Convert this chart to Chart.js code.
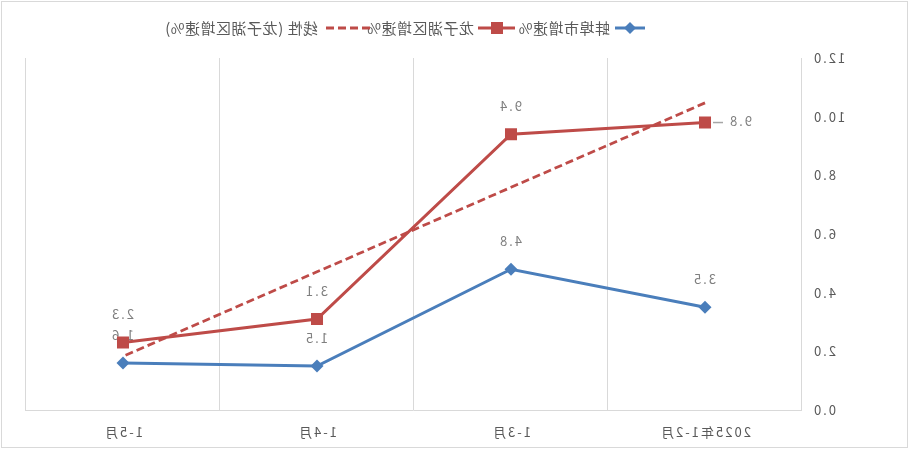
<!DOCTYPE html>
<html>
<head>
<meta charset="utf-8">
<script src="https://cdn.jsdelivr.net/npm/chart.js@4/dist/chart.umd.min.js"></script>
<style>
  html, body { margin: 0; padding: 0; background: #fff; }
  #wrap { width: 912px; height: 449px; transform: scaleX(-1); }
  canvas { display: block; }
</style>
</head>
<body>
<div id="wrap"><canvas id="c" width="912" height="449"></canvas></div>
<script>
const categories = ['2025年1-2月', '1-3月', '1-4月', '1-5月'];
const bengbu = [3.5, 4.8, 1.5, 1.6];
const longzihu = [9.8, 9.4, 3.1, 2.3];
const trendLongzihu = [10.47, 7.59, 4.71, 1.83];
const seriesNames = ['蚌埠市增速%', '龙子湖区增速%', '线性 (龙子湖区增速%)'];

const BLUE = '#4A7EBB';
const RED = '#BE4B48';
const TEXT = '#595959';
const LABEL = '#7F7F7F';
const GRID = '#D9D9D9';
const FONT = '"Noto Sans CJK SC", "Noto Sans", sans-serif';

Chart.defaults.font.family = FONT;
Chart.defaults.font.size = 13;
Chart.defaults.color = TEXT;

const spacingPlugin = {
  id: 'spacing',
  beforeDraw(chart) {
    chart.ctx.letterSpacing = '2px';
    const ctx = chart.ctx;
    ctx.save();
    ctx.strokeStyle = GRID;
    ctx.lineWidth = 1;
    ctx.strokeRect(4.5, 1.5, 906, 446);
    ctx.restore();
  }
};

const labelPlugin = {
  id: 'labels',
  afterDatasetDraw(chart, args) {
    const i = args.index;
    if (i > 1) return;
    const ctx = chart.ctx;
    const meta = chart.getDatasetMeta(i);
    const data = chart.data.datasets[i].data;
    ctx.save();
    ctx.letterSpacing = '2px';
    ctx.font = '13px ' + FONT;
    ctx.fillStyle = LABEL;
    ctx.textBaseline = 'middle';
    ctx.textAlign = 'center';
    meta.data.forEach((pt, j) => {
      const txt = data[j].toFixed(1);
      if (i === 1 && j === 0) {
        ctx.strokeStyle = '#A6A6A6';
        ctx.lineWidth = 1.5;
        ctx.beginPath();
        ctx.moveTo(pt.x - 18, pt.y);
        ctx.lineTo(pt.x - 8, pt.y);
        ctx.stroke();
        ctx.fillText(txt, pt.x - 35, pt.y - 1);
      } else {
        ctx.fillText(txt, pt.x + 1, pt.y - 28);
      }
    });
    ctx.restore();
  }
};

const legendPlugin = {
  id: 'customLegend',
  afterDraw(chart) {
    const ctx = chart.ctx;
    const y = 28;
    ctx.save();
    ctx.letterSpacing = '0.5px';
    ctx.font = '15px ' + FONT;
    ctx.fillStyle = TEXT;
    ctx.textBaseline = 'middle';
    ctx.textAlign = 'left';
    ctx.strokeStyle = BLUE; ctx.lineWidth = 3;
    ctx.beginPath(); ctx.moveTo(267, y); ctx.lineTo(297, y); ctx.stroke();
    ctx.fillStyle = BLUE;
    ctx.beginPath(); ctx.moveTo(282 - 6, y); ctx.lineTo(282, y - 6); ctx.lineTo(282 + 6, y); ctx.lineTo(282, y + 6); ctx.closePath(); ctx.fill();
    ctx.fillStyle = TEXT;
    ctx.fillText(seriesNames[0], 302, y);
    ctx.strokeStyle = RED;
    ctx.beginPath(); ctx.moveTo(397, y); ctx.lineTo(434, y); ctx.stroke();
    ctx.fillStyle = RED;
    ctx.fillRect(415 - 6, y - 6, 12, 12);
    ctx.fillStyle = TEXT;
    ctx.fillText(seriesNames[1], 438, y);
    ctx.strokeStyle = RED; ctx.setLineDash([8, 4]);
    ctx.beginPath(); ctx.moveTo(542, y); ctx.lineTo(590, y); ctx.stroke();
    ctx.setLineDash([]);
    ctx.fillText(seriesNames[2], 594, y);
    ctx.restore();
  }
};

new Chart(document.getElementById('c'), {
  type: 'line',
  data: {
    labels: categories,
    datasets: [
      {
        label: seriesNames[0], data: bengbu, borderColor: BLUE, backgroundColor: BLUE,
        borderWidth: 3, pointStyle: 'rectRot', pointRadius: 6.5, pointHoverRadius: 6.5,
        pointBorderWidth: 0, pointBackgroundColor: BLUE, tension: 0, order: 3
      },
      {
        label: seriesNames[1], data: longzihu, borderColor: RED, backgroundColor: RED,
        borderWidth: 3, pointStyle: 'rect', pointRadius: 8.5, pointHoverRadius: 8.5,
        pointBorderWidth: 0, pointBackgroundColor: RED, tension: 0, order: 2
      },
      {
        label: seriesNames[2], data: trendLongzihu, borderColor: RED,
        borderWidth: 2.75, borderDash: [8, 4], pointRadius: 0, tension: 0, order: 1
      }
    ]
  },
  options: {
    responsive: false,
    animation: false,
    devicePixelRatio: 1,
    layout: { padding: { left: 0, right: 26, top: 58, bottom: 0 } },
    plugins: { legend: { display: false }, tooltip: { enabled: false } },
    scales: {
      x: {
        offset: true,
        grid: { offset: true, color: GRID, lineWidth: 1, drawTicks: false },
        border: { display: true, color: GRID, width: 1 },
        ticks: { padding: 14, color: TEXT, font: { size: 13 }, maxRotation: 0, autoSkip: false },
        afterFit: s => { s.height = 39; }
      },
      y: {
        min: 0, max: 12,
        grid: { display: false, drawTicks: false },
        border: { display: true, color: GRID, width: 1 },
        ticks: { stepSize: 2, padding: 10, color: TEXT, callback: v => Number(v).toFixed(1) },
        afterFit: s => { s.width = 110; }
      }
    }
  },
  plugins: [spacingPlugin, labelPlugin, legendPlugin]
});
</script>
</body>
</html>
